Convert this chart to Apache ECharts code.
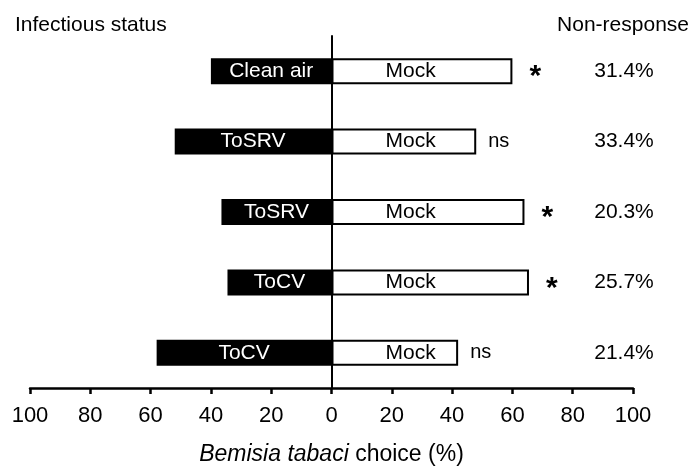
<!DOCTYPE html>
<html>
<head>
<meta charset="utf-8">
<script src="https://cdn.jsdelivr.net/npm/echarts@6/dist/echarts.min.js"></script>
<style>
  html, body { margin: 0; padding: 0; background: #fff; }
  #chart { width: 694px; height: 470px; }
</style>
</head>
<body>
<div id="chart"></div>
<script>
// ---- data ----
const treatments = ['Clean air', 'ToSRV', 'ToSRV', 'ToCV', 'ToCV'];
const infectiousStatus = ['NV', 'NV', 'V', 'NV', 'V'];
const treatmentChoice = [40, 52, 36.5, 34.5, 58];
const mockChoice = [60, 48, 64, 65.5, 42];
const significance = ['*', 'ns', '*', '*', 'ns'];
const nonResponse = ['31.4%', '33.4%', '20.3%', '25.7%', '21.4%'];
const mockLabel = 'Mock';

const FONT = 'Arial, "Liberation Sans", sans-serif';

const chart = echarts.init(document.getElementById('chart'), null, { renderer: 'canvas' });

const option = {
  animation: false,
  backgroundColor: '#fff',
  textStyle: { fontFamily: FONT },
  title: [
    { text: 'Infectious status', left: 10, top: 10,
      textStyle: { fontFamily: FONT, fontSize: 21, fontWeight: 'normal', color: '#000' } },
    { text: 'Non-response', right: 0, top: 10,
      textStyle: { fontFamily: FONT, fontSize: 21, fontWeight: 'normal', color: '#000' } }
  ],
  grid: { left: 30, right: 61, top: 36, bottom: 82, containLabel: false, outerBoundsMode: 'none' },
  xAxis: {
    type: 'value', min: -100, max: 100, interval: 20,
    axisLine: { show: true, onZero: false, lineStyle: { color: '#000', width: 2.5 } },
    axisTick: { show: true, length: 6, lineStyle: { color: '#000', width: 2.5 } },
    splitLine: { show: false },
    axisLabel: { fontSize: 22, color: '#000', fontFamily: FONT, margin: 17,
      formatter: v => String(Math.abs(v)) },
    name: '{i|Bemisia tabaci} choice (%)',
    nameLocation: 'middle', nameGap: 55,
    nameTextStyle: { fontSize: 23, color: '#000', fontFamily: FONT,
      rich: { i: { fontStyle: 'italic', fontSize: 23, color: '#000', fontFamily: FONT } } }
  },
  yAxis: [
    {
      type: 'category', inverse: true, data: infectiousStatus,
      axisLine: { show: true, onZero: true, lineStyle: { color: '#000', width: 2 } },
      axisTick: { show: false },
      axisLabel: { show: true, margin: 252, align: 'center', fontSize: 17, color: '#444', fontFamily: FONT }
    },
    {
      type: 'category', inverse: true, data: nonResponse, position: 'right',
      axisLine: { show: false }, axisTick: { show: false },
      axisLabel: { show: true, inside: true, margin: 9, align: 'center', fontSize: 21, color: '#000', fontFamily: FONT }
    }
  ],
  series: [
    {
      type: 'bar', yAxisIndex: 0, barWidth: 26, barGap: '-100%',
      data: treatmentChoice.map(v => -v),
      itemStyle: { color: '#000', borderColor: '#000', borderWidth: 2 },
      label: { show: true, position: 'inside', color: '#fff', fontSize: 21, fontFamily: FONT,
        formatter: p => treatments[p.dataIndex] }
    },
    {
      type: 'bar', yAxisIndex: 0, barWidth: 26, barGap: '-100%',
      data: mockChoice,
      itemStyle: { color: '#fff', borderColor: '#000', borderWidth: 2 },
      label: { show: true, position: 'insideLeft', distance: 54, color: '#000', fontSize: 21, fontFamily: FONT,
        formatter: () => mockLabel }
    },
    {
      type: 'bar', yAxisIndex: 0, barWidth: 26, barGap: '-100%',
      data: mockChoice.map((v, i) => ({
        value: v,
        label: significance[i] === '*'
          ? { fontSize: 30, fontWeight: 'bold', offset: [0, 6], distance: 17 }
          : { fontSize: 20, offset: [0, 0], distance: 12 }
      })),
      itemStyle: { color: 'rgba(0,0,0,0)', borderWidth: 0 },
      label: { show: true, position: 'right', color: '#000', fontFamily: FONT,
        formatter: p => significance[p.dataIndex] },
      silent: true
    }
  ]
};

chart.setOption(option);
</script>
</body>
</html>
